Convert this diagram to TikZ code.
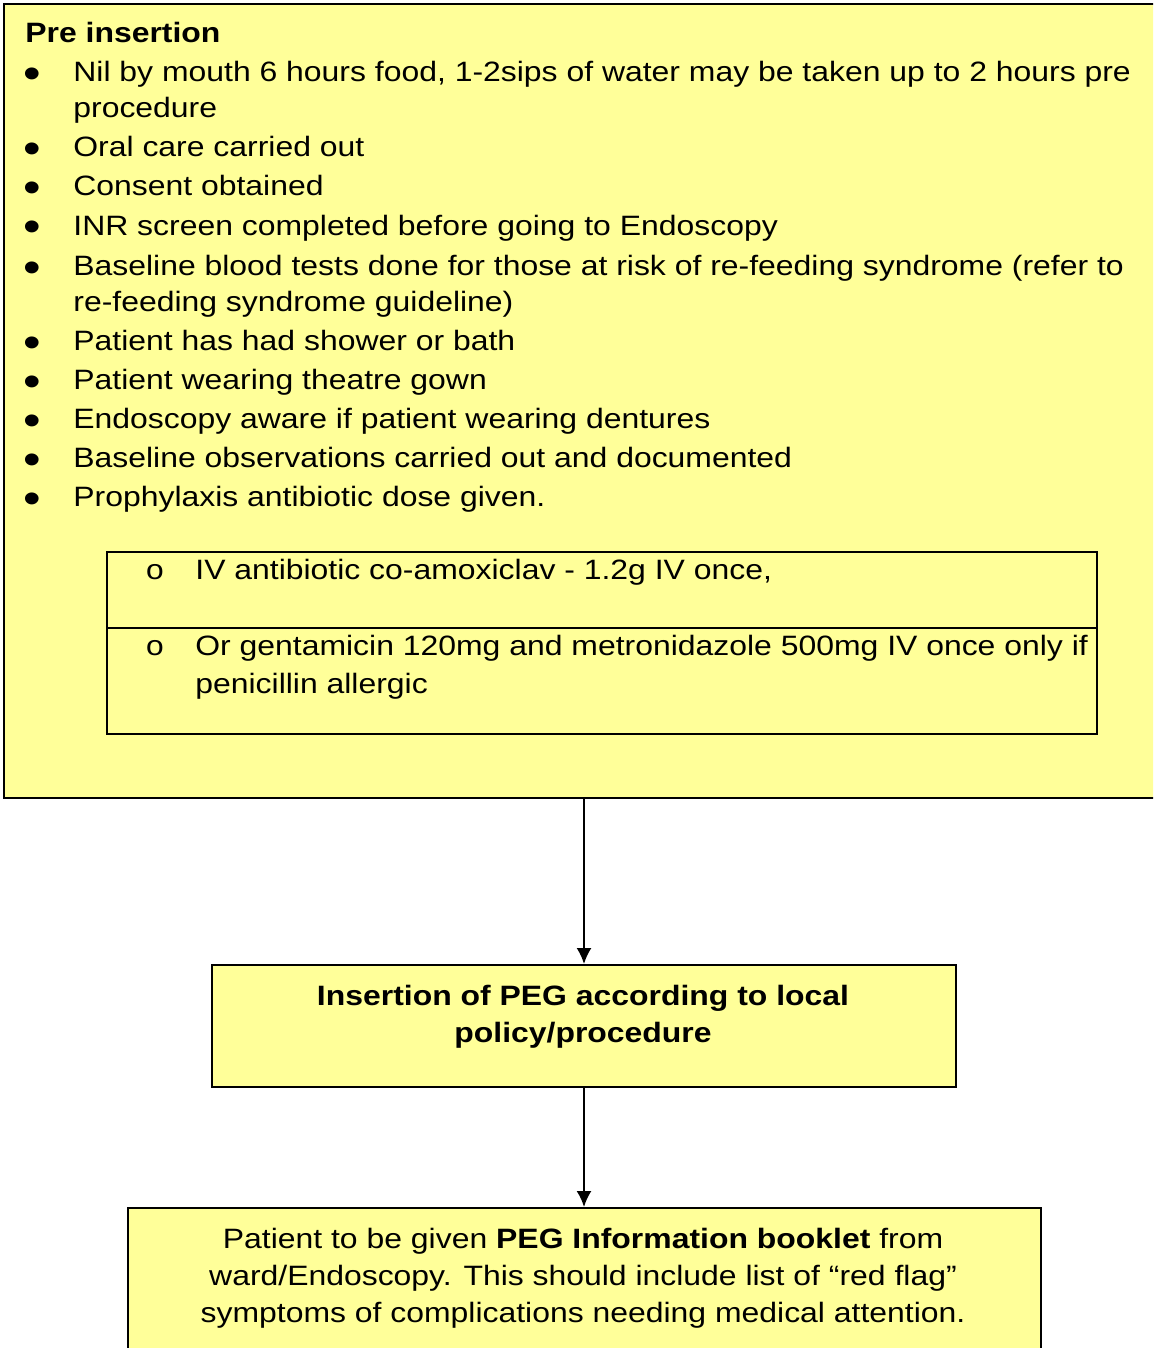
\documentclass[tikz,border=0pt]{standalone}
\usepackage{fontspec}
\setmainfont[FakeStretch=1.14]{Liberation Sans}
\newfontfamily\subbulletfont[FakeStretch=1.14]{Liberation Mono}
\usepackage{xcolor}
\usetikzlibrary{arrows.meta, positioning, calc}
\definecolor{paleyellow}{HTML}{FFFF99}

\begin{document}
\begin{tikzpicture}[
    x=0.5pt,
    y=-0.5pt,
    >={Latex[length=8pt, width=7.5pt]},
    panel/.style={
        rectangle,
        draw=black,
        line width=1pt,
        fill=paleyellow,
        inner sep=0pt
    },
    txt/.style={
        anchor=base west,
        inner sep=0pt,
        font=\fontsize{14}{18}\selectfont
    },
    ctxt/.style={
        anchor=base,
        inner sep=0pt,
        font=\fontsize{14}{18}\selectfont
    },
    bul/.style={
        anchor=base,
        inner sep=0pt,
        text height=12pt,
        text depth=0pt,
        font=\fontsize{22}{18}\selectfont
    },
    subbul/.style={
        anchor=base,
        inner sep=0pt,
        font=\fontsize{14}{18}\subbulletfont
    },
    link/.style={
        ->,
        line width=1pt
    }
]

\clip (0,0) rectangle (1153,1348);

% Pre insertion panel
\node[panel, anchor=north west, minimum width=600pt, minimum height=397pt] (pre) at (3,3) {};

\node[txt, font=\fontsize{14}{18}\selectfont\bfseries] (title) at (25,43) {Pre insertion};

\node[bul] (b1) at (32,89) {•};
\node[txt] (i1) at (73,82) {Nil by mouth 6 hours food, 1-2sips of water may be taken up to 2 hours pre};
\node[txt] (i1b) at (73,118) {procedure};
\node[bul] (b2) at (32,164) {•};
\node[txt] (i2) at (73,157) {Oral care carried out};
\node[bul] (b3) at (32,203) {•};
\node[txt] (i3) at (73,196) {Consent obtained};
\node[bul] (b4) at (32,242) {•};
\node[txt] (i4) at (73,235) {INR screen completed before going to Endoscopy};
\node[bul] (b5) at (32,282) {•};
\node[txt] (i5) at (73,275) {Baseline blood tests done for those at risk of re-feeding syndrome (refer to};
\node[txt] (i5b) at (73,311) {re-feeding syndrome guideline)};
\node[bul] (b6) at (32,357) {•};
\node[txt] (i6) at (73,350) {Patient has had shower or bath};
\node[bul] (b7) at (32,396) {•};
\node[txt] (i7) at (73,389) {Patient wearing theatre gown};
\node[bul] (b8) at (32,435) {•};
\node[txt] (i8) at (73,428) {Endoscopy aware if patient wearing dentures};
\node[bul] (b9) at (32,474) {•};
\node[txt] (i9) at (73,467) {Baseline observations carried out and documented};
\node[bul] (b10) at (32,513) {•};
\node[txt] (i10) at (73,506) {Prophylaxis antibiotic dose given.};

% Antibiotic table
\node[panel, anchor=north west, minimum width=495pt, minimum height=91pt] (abx) at (106,551) {};
\draw[line width=1pt] (abx.west |- 0,628) -- (abx.east |- 0,628);

\node[subbul] (s1) at (155,579) {o};
\node[txt] (a1) at (195,579) {IV antibiotic co-amoxiclav - 1.2g IV once,};
\node[subbul] (s2) at (155,655) {o};
\node[txt] (a2) at (195,655) {Or gentamicin 120mg and metronidazole 500mg IV once only if};
\node[txt] (a2b) at (195,693) {penicillin allergic};

% Insertion
\node[panel, minimum width=372pt, minimum height=61pt] (peg) at (584,1026) {};
\node[ctxt, font=\fontsize{14}{18}\selectfont\bfseries] (peg1) at (583,1005) {Insertion of PEG according to local};
\node[ctxt, font=\fontsize{14}{18}\selectfont\bfseries] (peg2) at (583,1042) {policy/procedure};

% Information booklet
\node[panel, anchor=north, minimum width=456.5pt, minimum height=100pt] (info) at (584,1207) {};
\node[ctxt] (info1) at (583,1248) {Patient to be given \textbf{PEG Information booklet} from};
\node[ctxt] (info2) at (583,1285) {ward/Endoscopy. This should include list of “red flag”};
\node[ctxt] (info3) at (583,1322) {symptoms of complications needing medical attention.};

% Arrows
\draw[link] (pre.south -| peg.north) -- (peg.north);
\draw[link] (peg.south) -- (info.north);

\end{tikzpicture}
\end{document}
